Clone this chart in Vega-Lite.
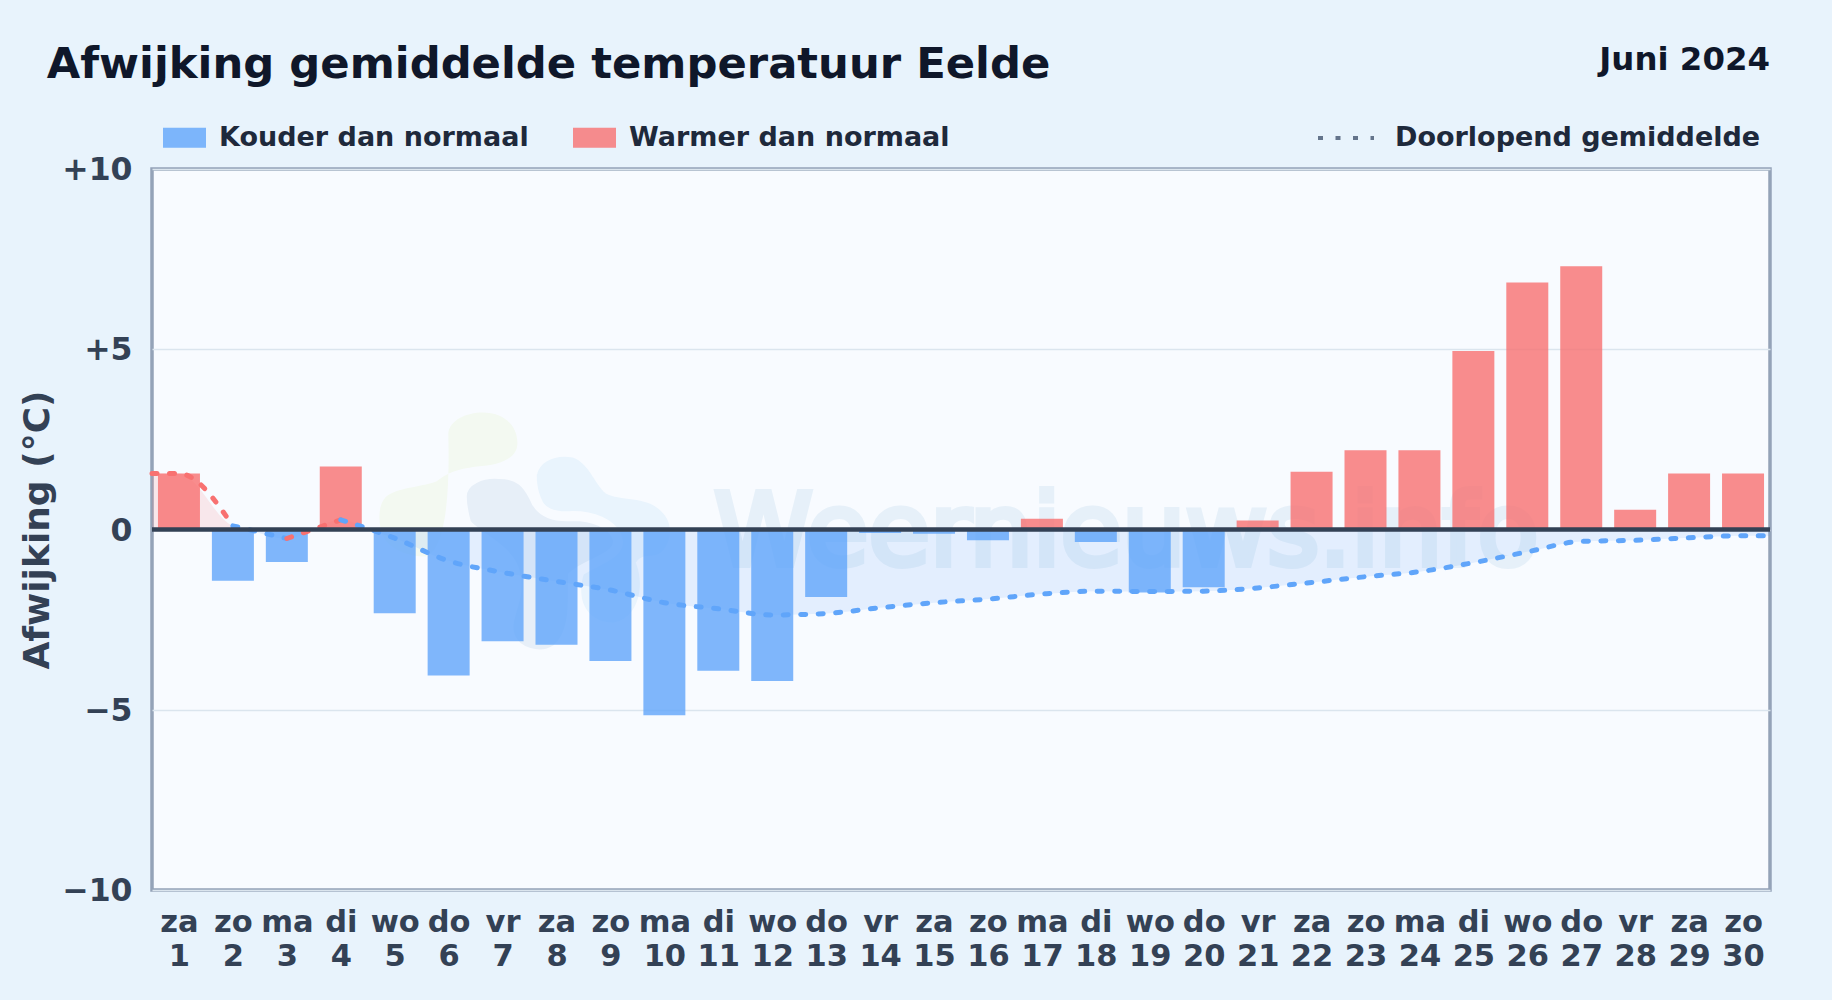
{"$schema":"https://vega.github.io/schema/vega-lite/v6.json","width":1618,"height":721,"autosize":{"type":"none"},"padding":{"left":152,"top":169,"right":62,"bottom":110},"background":"#e8f3fc","view":{"fill":"#f8fbff","stroke":"#94a3b8","strokeWidth":3.5},
"title":{"text":"Afwijking gemiddelde temperatuur Eelde","anchor":"start","dx":27,"offset":-77,"baseline":"alphabetic","font":"DejaVu Sans","fontWeight":"bold","fontSize":43.3,"color":"#0f172a"},
"datasets":{
"bars":[{"dag":1,"afwijking":1.55,"type":"Warmer dan normaal"},{"dag":2,"afwijking":-1.42,"type":"Kouder dan normaal"},{"dag":3,"afwijking":-0.9,"type":"Kouder dan normaal"},{"dag":4,"afwijking":1.75,"type":"Warmer dan normaal"},{"dag":5,"afwijking":-2.32,"type":"Kouder dan normaal"},{"dag":6,"afwijking":-4.05,"type":"Kouder dan normaal"},{"dag":7,"afwijking":-3.1,"type":"Kouder dan normaal"},{"dag":8,"afwijking":-3.2,"type":"Kouder dan normaal"},{"dag":9,"afwijking":-3.65,"type":"Kouder dan normaal"},{"dag":10,"afwijking":-5.15,"type":"Kouder dan normaal"},{"dag":11,"afwijking":-3.92,"type":"Kouder dan normaal"},{"dag":12,"afwijking":-4.2,"type":"Kouder dan normaal"},{"dag":13,"afwijking":-1.87,"type":"Kouder dan normaal"},{"dag":14,"afwijking":-0.1,"type":"Kouder dan normaal"},{"dag":15,"afwijking":-0.12,"type":"Kouder dan normaal"},{"dag":16,"afwijking":-0.3,"type":"Kouder dan normaal"},{"dag":17,"afwijking":0.3,"type":"Warmer dan normaal"},{"dag":18,"afwijking":-0.35,"type":"Kouder dan normaal"},{"dag":19,"afwijking":-1.75,"type":"Kouder dan normaal"},{"dag":20,"afwijking":-1.6,"type":"Kouder dan normaal"},{"dag":21,"afwijking":0.25,"type":"Warmer dan normaal"},{"dag":22,"afwijking":1.6,"type":"Warmer dan normaal"},{"dag":23,"afwijking":2.2,"type":"Warmer dan normaal"},{"dag":24,"afwijking":2.2,"type":"Warmer dan normaal"},{"dag":25,"afwijking":4.95,"type":"Warmer dan normaal"},{"dag":26,"afwijking":6.85,"type":"Warmer dan normaal"},{"dag":27,"afwijking":7.3,"type":"Warmer dan normaal"},{"dag":28,"afwijking":0.55,"type":"Warmer dan normaal"},{"dag":29,"afwijking":1.55,"type":"Warmer dan normaal"},{"dag":30,"afwijking":1.55,"type":"Warmer dan normaal"}],
"lijn":[{"dag":0.5,"gem":1.55,"seg":"a","teken":"warm"},{"dag":1,"gem":1.55,"seg":"a","teken":"warm"},{"dag":2,"gem":0.1,"seg":"a","teken":"warm"},{"dag":2,"gem":0.1,"seg":"b","teken":"koud"},{"dag":3,"gem":-0.25,"seg":"b","teken":"koud"},{"dag":3,"gem":-0.25,"seg":"c","teken":"warm"},{"dag":4,"gem":0.27,"seg":"c","teken":"warm"},{"dag":4,"gem":0.27,"seg":"d","teken":"koud"},{"dag":5,"gem":-0.24,"seg":"d","teken":"koud"},{"dag":6,"gem":-0.87,"seg":"d","teken":"koud"},{"dag":7,"gem":-1.19,"seg":"d","teken":"koud"},{"dag":8,"gem":-1.44,"seg":"d","teken":"koud"},{"dag":9,"gem":-1.68,"seg":"d","teken":"koud"},{"dag":10,"gem":-2.03,"seg":"d","teken":"koud"},{"dag":11,"gem":-2.2,"seg":"d","teken":"koud"},{"dag":12,"gem":-2.37,"seg":"d","teken":"koud"},{"dag":13,"gem":-2.33,"seg":"d","teken":"koud"},{"dag":14,"gem":-2.17,"seg":"d","teken":"koud"},{"dag":15,"gem":-2.03,"seg":"d","teken":"koud"},{"dag":16,"gem":-1.93,"seg":"d","teken":"koud"},{"dag":17,"gem":-1.79,"seg":"d","teken":"koud"},{"dag":18,"gem":-1.71,"seg":"d","teken":"koud"},{"dag":19,"gem":-1.72,"seg":"d","teken":"koud"},{"dag":20,"gem":-1.71,"seg":"d","teken":"koud"},{"dag":21,"gem":-1.62,"seg":"d","teken":"koud"},{"dag":22,"gem":-1.47,"seg":"d","teken":"koud"},{"dag":23,"gem":-1.31,"seg":"d","teken":"koud"},{"dag":24,"gem":-1.17,"seg":"d","teken":"koud"},{"dag":25,"gem":-0.92,"seg":"d","teken":"koud"},{"dag":26,"gem":-0.62,"seg":"d","teken":"koud"},{"dag":27,"gem":-0.33,"seg":"d","teken":"koud"},{"dag":28,"gem":-0.3,"seg":"d","teken":"koud"},{"dag":29,"gem":-0.23,"seg":"d","teken":"koud"},{"dag":30,"gem":-0.17,"seg":"d","teken":"koud"},{"dag":30.5,"gem":-0.17,"seg":"d","teken":"koud"}],
"vlak":[{"dag":0.5,"gem":1.55,"seg":"p1","teken":"warm"},{"dag":1,"gem":1.55,"seg":"p1","teken":"warm"},{"dag":2,"gem":0.1,"seg":"p1","teken":"warm"},{"dag":2.3,"gem":0,"seg":"p1","teken":"warm"},{"dag":2.3,"gem":0,"seg":"n1","teken":"koud"},{"dag":3,"gem":-0.25,"seg":"n1","teken":"koud"},{"dag":3.5,"gem":0,"seg":"n1","teken":"koud"},{"dag":3.5,"gem":0,"seg":"p2","teken":"warm"},{"dag":4,"gem":0.27,"seg":"p2","teken":"warm"},{"dag":4.5,"gem":0,"seg":"p2","teken":"warm"},{"dag":4.5,"gem":0,"seg":"n2","teken":"koud"},{"dag":5,"gem":-0.24,"seg":"n2","teken":"koud"},{"dag":6,"gem":-0.87,"seg":"n2","teken":"koud"},{"dag":7,"gem":-1.19,"seg":"n2","teken":"koud"},{"dag":8,"gem":-1.44,"seg":"n2","teken":"koud"},{"dag":9,"gem":-1.68,"seg":"n2","teken":"koud"},{"dag":10,"gem":-2.03,"seg":"n2","teken":"koud"},{"dag":11,"gem":-2.2,"seg":"n2","teken":"koud"},{"dag":12,"gem":-2.37,"seg":"n2","teken":"koud"},{"dag":13,"gem":-2.33,"seg":"n2","teken":"koud"},{"dag":14,"gem":-2.17,"seg":"n2","teken":"koud"},{"dag":15,"gem":-2.03,"seg":"n2","teken":"koud"},{"dag":16,"gem":-1.93,"seg":"n2","teken":"koud"},{"dag":17,"gem":-1.79,"seg":"n2","teken":"koud"},{"dag":18,"gem":-1.71,"seg":"n2","teken":"koud"},{"dag":19,"gem":-1.72,"seg":"n2","teken":"koud"},{"dag":20,"gem":-1.71,"seg":"n2","teken":"koud"},{"dag":21,"gem":-1.62,"seg":"n2","teken":"koud"},{"dag":22,"gem":-1.47,"seg":"n2","teken":"koud"},{"dag":23,"gem":-1.31,"seg":"n2","teken":"koud"},{"dag":24,"gem":-1.17,"seg":"n2","teken":"koud"},{"dag":25,"gem":-0.92,"seg":"n2","teken":"koud"},{"dag":26,"gem":-0.62,"seg":"n2","teken":"koud"},{"dag":27,"gem":-0.33,"seg":"n2","teken":"koud"},{"dag":28,"gem":-0.3,"seg":"n2","teken":"koud"},{"dag":29,"gem":-0.23,"seg":"n2","teken":"koud"},{"dag":30,"gem":-0.17,"seg":"n2","teken":"koud"},{"dag":30.5,"gem":-0.17,"seg":"n2","teken":"koud"}]
},
"encoding":{
"x":{"field":"dag","type":"quantitative","title":null,"scale":{"domain":[0.5,30.5],"nice":false,"zero":false,"padding":0},"axis":{"values":[1,2,3,4,5,6,7,8,9,10,11,12,13,14,15,16,17,18,19,20,21,22,23,24,25,26,27,28,29,30],"labelExpr":"[['za','zo','ma','di','wo','do','vr'][(datum.value-1)%7], ''+datum.value]","labelOverlap":false,"labelBound":false,"labelFlush":false,"domain":false,"ticks":false,"grid":false,"labelFont":"DejaVu Sans","labelFontWeight":"bold","labelFontSize":30.5,"labelColor":"#334155","labelPadding":17,"labelLineHeight":34,"labelBaseline":"top","labelAngle":0}}
},
"layer":[
{"data":{"values":[{"dag":7.69,"gem":0}]},"mark":{"type":"point","filled":true,"size":90000,"opacity":1,"color":"#f3f9f1","shape":"M-0.61,-0.64 C-0.6,-0.73 -0.49,-0.78 -0.38,-0.78 C-0.24,-0.78 -0.14,-0.69 -0.15,-0.56 C-0.16,-0.47 -0.27,-0.43 -0.42,-0.42 C-0.56,-0.4 -0.61,-0.38 -0.69,-0.32 C-0.76,-0.29 -0.93,-0.28 -1.01,-0.23 C-1.07,-0.19 -1.08,-0.09 -1.06,0 C-1.04,0.11 -0.91,0.18 -0.76,0.18 C-0.62,0.13 -0.6,-0.27 -0.61,-0.64 Z"},"encoding":{"y":{"field":"gem","type":"quantitative"}}},
{"data":{"values":[{"dag":7.69,"gem":0}]},"mark":{"type":"point","filled":true,"size":90000,"opacity":1,"color":"#e9f4fd","shape":"M-0.02,-0.36 C0,-0.46 0.11,-0.5 0.22,-0.48 C0.33,-0.44 0.36,-0.31 0.44,-0.24 C0.53,-0.19 0.71,-0.22 0.8,-0.13 C0.87,-0.07 0.89,0.02 0.84,0.11 C0.78,0.22 0.71,0.13 0.64,0.22 C0.71,0.4 0.64,0.6 0.49,0.62 C0.33,0.62 0.24,0.49 0.29,0.31 C0.31,0.22 0.36,0.11 0.24,0.02 C0.04,-0.09 -0.02,-0.22 -0.02,-0.36 Z"},"encoding":{"y":{"field":"gem","type":"quantitative"}}},
{"data":{"values":[{"dag":7.69,"gem":0}]},"mark":{"type":"point","filled":true,"size":90000,"opacity":1,"color":"#e7eff8","stroke":"#f8fbff","strokeWidth":10,"shape":"M-0.52,-0.22 C-0.52,-0.33 -0.38,-0.38 -0.27,-0.37 C-0.13,-0.37 -0.08,-0.3 -0.04,-0.22 C0,-0.11 0.09,-0.08 0.22,-0.09 C0.36,-0.09 0.47,-0.04 0.51,0.04 C0.58,0.18 0.31,0.22 0.22,0.31 C0.22,0.49 0.24,0.69 0.11,0.8 C0,0.87 -0.16,0.82 -0.2,0.71 C-0.24,0.58 -0.13,0.49 -0.16,0.31 C-0.18,0.13 -0.44,0.04 -0.49,-0.04 C-0.51,-0.11 -0.52,-0.16 -0.52,-0.22 Z"},"encoding":{"y":{"field":"gem","type":"quantitative"}}},
{"data":{"values":[{"dag":10.92,"gem":-0.98,"tekst":"Weernieuws.info"}]},"mark":{"type":"text","font":"DejaVu Sans","fontWeight":"normal","fontSize":100,"align":"left","baseline":"alphabetic","color":"#e6f0f9","stroke":"#e6f0f9","strokeWidth":6,"clip":false},"encoding":{"y":{"field":"gem","type":"quantitative"},"text":{"field":"tekst"}}},
{"data":{"name":"vlak"},"mark":{"type":"area","interpolate":"monotone"},"encoding":{"y":{"field":"gem","type":"quantitative"},"y2":{"datum":0},"detail":{"field":"seg"},"fill":{"field":"teken","type":"nominal","legend":null,"scale":{"domain":["warm","koud"],"range":["#f87171","#60a5fa"]}},"opacity":{"value":0.14}}},
{"data":{"name":"bars"},"mark":{"type":"bar","size":42,"orient":"vertical","opacity":0.8},"encoding":{
"y":{"field":"afwijking","type":"quantitative","title":"Afwijking (°C)","scale":{"domain":[-10,10],"nice":false,"zero":false},"axis":{"values":[-10,-5,0,5,10],"labelExpr":"datum.value>0?'+'+datum.value:(datum.value<0?'−'+abs(datum.value):'0')","domain":false,"ticks":false,"grid":true,"gridColor":"#dbe5ee","gridWidth":1.5,"labelFont":"DejaVu Sans","labelFontWeight":"bold","labelFontSize":31.5,"labelColor":"#334155","labelPadding":20,"labelOffset":1.5,"titleFont":"DejaVu Sans","titleFontWeight":"bold","titleFontSize":36,"titleColor":"#334155","titlePadding":5}},
"y2":{"datum":0},
"color":{"field":"type","type":"nominal","title":null,"scale":{"domain":["Kouder dan normaal","Warmer dan normaal"],"range":["#60a5fa","#f87171"]},"legend":{"orient":"none","legendX":10,"legendY":-54,"direction":"horizontal","columns":2,"symbolType":"M-1,-0.465H1V0.465H-1Z","symbolSize":1849,"symbolOpacity":0.8,"labelOffset":12,"columnPadding":43,"labelLimit":600,"labelFont":"DejaVu Sans","labelFontWeight":"bold","labelFontSize":27,"labelColor":"#1e293b","title":null}}}},
{"data":{"name":"lijn"},"transform":[{"calculate":"'Doorlopend gemiddelde'","as":"reeks"}],"mark":{"type":"line","interpolate":"monotone","strokeWidth":5,"strokeCap":"round"},"encoding":{"y":{"field":"gem","type":"quantitative"},"detail":{"field":"seg"},"stroke":{"field":"teken","type":"nominal","legend":null,"scale":{"domain":["warm","koud"],"range":["#f87171","#60a5fa"]}},"strokeDash":{"field":"reeks","type":"nominal","title":null,"scale":{"range":[[5,12.5]]},"legend":{"orient":"none","legendX":1164,"legendY":-61,"title":null,"symbolSize":3136,"symbolStrokeColor":"#64748b","symbolStrokeWidth":4,"labelOffset":19,"labelLimit":600,"labelFont":"DejaVu Sans","labelFontWeight":"bold","labelFontSize":27,"labelColor":"#1e293b"}}}},
{"data":{"values":[{"gem":0}]},"mark":{"type":"rule","color":"#334155","strokeWidth":4.5},"encoding":{"x":{"value":0},"x2":{"value":1618},"y":{"field":"gem","type":"quantitative"}}},
{"data":{"values":[{"dag":30.5,"gem":12.75,"tekst":"Juni 2024"}]},"mark":{"type":"text","font":"DejaVu Sans","fontWeight":"bold","fontSize":32.4,"align":"right","baseline":"alphabetic","color":"#0f172a","clip":false},"encoding":{"y":{"field":"gem","type":"quantitative"},"text":{"field":"tekst"}}}
]}
